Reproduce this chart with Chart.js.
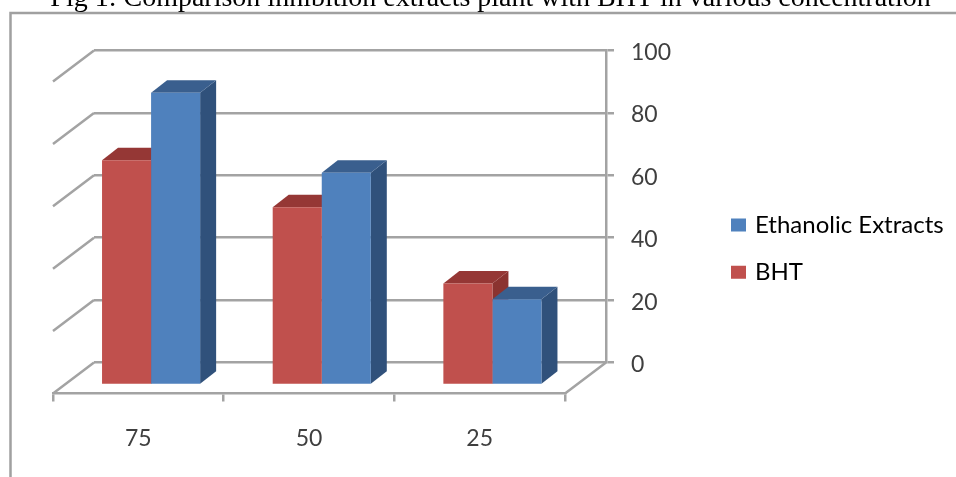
<!DOCTYPE html>
<html>
<head>
<meta charset="utf-8">
<style>html,body{margin:0;padding:0;background:#fff;overflow:hidden}#w{width:956px;height:477px;position:relative}</style>
<script src="https://cdn.jsdelivr.net/npm/chart.js@4"></script>
</head>
<body>
<div id="w"><canvas id="c" width="956" height="477"></canvas></div>
<script>
const titleText = "Fig 1: Comparison inhibition extracts plant with BHT in various concentration";
const categories = ["75", "50", "25"];
const bhtValues = [72, 57, 32.5];
const ethanolicValues = [93.7, 68, 27.5];
const seriesNames = ["BHT", "Ethanolic Extracts"];
const yTicks = [0, 20, 40, 60, 80, 100];

const RED = "#C0504D", BLUE = "#4F81BD", GRID = "#A3A3A3", TEXT = "#3F3F3F";
const faces = [{top:"#953735", side:"#8B3330"}, {top:"#3A5F8E", side:"#30517B"}];
const wall = {dx:-41, dy:31};     // floor depth of the back wall
const bar3d = {dx:16, dy:-12.5};  // depth of one bar
const shift = {dx:12.75, dy:22.5}; // bars stand in front of the back wall
const LATO = "Lato, sans-serif";

const threeD = {
  id:"threeD",
  beforeDraw(chart){
    const c = chart.ctx;
    c.save();
    c.fillStyle = "#fff"; c.fillRect(0,0,chart.width,chart.height);
    c.strokeStyle = "#A0A0A0"; c.lineWidth = 2.5;
    c.beginPath(); c.moveTo(956,13); c.lineTo(10.5,13); c.lineTo(10.5,477); c.stroke();
    c.restore();
  },
  afterLayout(chart){
    const x = chart.scales.x, y = chart.scales.y;
    x.left = chart.chartArea.left + wall.dx;
    x.right = chart.chartArea.right + wall.dx;
    x.top = y.getPixelForValue(0) + wall.dy;
    x.bottom = x.top + 75;
    x.width = x.right - x.left;
    x.configure();
    if (!y._nudged) {
      y._nudged = true;
      const draw = y.drawLabels;
      y.drawLabels = function(area){
        const c = this.ctx;
        c.save(); c.translate(0, 2); draw.call(this, area); c.restore();
      };
    }
    const t = chart.titleBlock;
    t.left = 25; t.right = 956; t.top = -17.8; t.bottom = t.top + t.height;
    const l = chart.legend;
    const p = l.options.labels.padding;
    l.left = 734 - p; l.right = l.left + 240;
    l.top = 213 - p; l.bottom = l.top + 160;
  },
  beforeDatasetsDraw(chart){
    const c = chart.ctx, y = chart.scales.y, a = chart.chartArea;
    c.save();
    c.strokeStyle = GRID; c.lineWidth = 2.5;
    c.beginPath();
    yTicks.forEach(v => {
      const py = y.getPixelForValue(v);
      c.moveTo(a.left, py); c.lineTo(a.left + wall.dx, py + wall.dy);
    });
    const p0 = y.getPixelForValue(0);
    c.moveTo(a.right, p0); c.lineTo(a.right + wall.dx, p0 + wall.dy);
    c.stroke();
    c.restore();
    c.save();
    c.translate(shift.dx, shift.dy);
    chart.data.datasets.forEach((d, i) => {
      chart.getDatasetMeta(i).data.forEach(b => {
        const L = b.x - b.width/2, R = b.x + b.width/2, T = b.y, B = b.base;
        c.fillStyle = faces[i].side;
        c.beginPath(); c.moveTo(R,T); c.lineTo(R+bar3d.dx,T+bar3d.dy); c.lineTo(R+bar3d.dx,B+bar3d.dy); c.lineTo(R,B); c.closePath(); c.fill();
        c.fillStyle = faces[i].top;
        c.beginPath(); c.moveTo(L,T); c.lineTo(L+bar3d.dx,T+bar3d.dy); c.lineTo(R+bar3d.dx,T+bar3d.dy); c.lineTo(R,T); c.closePath(); c.fill();
      });
    });
    // fronts are drawn next by the library in this same translated frame
  },
  afterDatasetsDraw(chart){ chart.ctx.restore(); }
};

new Chart(document.getElementById("c"), {
  type:"bar",
  plugins:[threeD],
  data:{
    labels:categories,
    datasets:[
      {label:seriesNames[0], data:bhtValues, backgroundColor:RED, clip:false},
      {label:seriesNames[1], data:ethanolicValues, backgroundColor:BLUE, clip:false}
    ]
  },
  options:{
    responsive:false, animation:false, events:[],
    layout:{padding:{left:94, right:250, top:16.9, bottom:74.5}},
    datasets:{bar:{categoryPercentage:98/170.5, barPercentage:1, borderWidth:0}},
    scales:{
      x:{
        afterFit(s){ s.height = 40; },
        border:{color:GRID, width:2.5},
        grid:{drawOnChartArea:false, drawTicks:true, tickLength:8, color:GRID, lineWidth:2.5},
        ticks:{color:TEXT, font:{family:LATO, size:23}, padding:23, maxRotation:0}
      },
      y:{
        position:"right", min:0, max:100,
        afterBuildTicks(s){ s.ticks = yTicks.map(v => ({value:v})); },
        afterFit(s){ s.width = 100; },
        border:{color:GRID, width:2.5},
        grid:{color:GRID, lineWidth:2.5, tickLength:8},
        ticks:{color:TEXT, font:{family:LATO, size:23}, padding:17, crossAlign:"near"}
      }
    },
    plugins:{
      tooltip:{enabled:false},
      title:{display:true, text:titleText, color:"#000", padding:0,
        font:{family:"Liberation Serif, serif", size:28, weight:"normal", lineHeight:1.2}},
      legend:{
        position:"chartArea", align:"start", reverse:false,
        labels:{
          color:TEXT, boxWidth:9, boxHeight:7, padding:23.2,
          font:{family:LATO, size:24, lineHeight:1.2},
          generateLabels(chart){
            return chart.data.datasets.map((d,i)=>({
              text:d.label, fillStyle:d.backgroundColor, strokeStyle:d.backgroundColor,
              lineWidth:6, datasetIndex:i, hidden:false
            })).reverse();
          }
        }
      }
    }
  }
});
</script>
</body>
</html>
